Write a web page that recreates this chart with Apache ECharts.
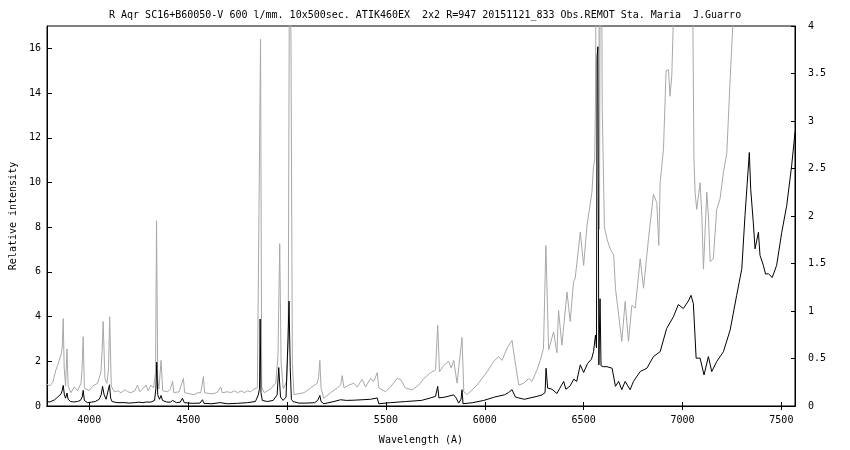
<!DOCTYPE html>
<html>
<head>
<meta charset="utf-8">
<script src="https://cdn.jsdelivr.net/npm/echarts@6/dist/echarts.min.js"></script>
<style>html,body{margin:0;padding:0;background:#fff;}#c{width:850px;height:450px;}</style>
</head>
<body>
<div id="c"></div>
<script>
const titleText = "R Aqr SC16+B60050-V 600 l/mm. 10x500sec. ATIK460EX  2x2 R=947 20151121_833 Obs.REMOT Sta. Maria  J.Guarro";
const xTicks = [4000, 4500, 5000, 5500, 6000, 6500, 7000, 7500];
const yLeftTicks = [0, 2, 4, 6, 8, 10, 12, 14, 16];

// Black spectrum (left axis, relative intensity)
const blackWl = [3786,3800,3823,3840,3850,3858,3863,3868,3874,3880,3887,3893,3905,3920,3940,3955,3964,3969,3975,3990,
4010,4030,4050,4060,4067,4075,4085,4095,4102,4108,4115,4140,4180,4200,4230,4250,4270,4290,4310,4330,
4337,4341,4346,4355,4363,4370,4390,4410,4421,4440,4460,4471,4480,4520,4560,4572,4580,4620,4660,4700,
4750,4800,4840,4855,4861,4864,4868,4875,4900,4930,4950,4958,4962,4967,4980,4995,5005,5010,5016,5022,
5030,5060,5100,5140,5155,5166,5172,5186,5237,5271,5300,5338,5380,5422,5456,5464,5523,5600,5680,5725,
5751,5758,5762,5768,5800,5843,5855,5868,5880,5885,5890,5940,5995,6050,6100,6120,6138,6155,6172,6200,
6264,6290,6305,6310,6318,6340,6365,6380,6399,6410,6432,6450,6465,6483,6500,6520,6540,6550,6560,6565,
6568,6572,6577,6583,6588,6600,6618,6644,6661,6677,6693,6710,6719,6735,6752,6786,6820,6853,6887,6920,
6954,6979,7004,7030,7043,7055,7069,7089,7109,7131,7148,7173,7207,7241,7274,7300,7316,7338,7345,7358,
7367,7384,7392,7409,7420,7434,7454,7476,7502,7527,7552,7569];
const blackFlux = [0.2,0.18,0.27,0.4,0.45,0.55,0.7,0.92,0.5,0.35,0.58,0.3,0.2,0.18,0.2,0.25,0.4,0.7,0.25,0.15,
0.17,0.2,0.3,0.5,0.88,0.5,0.3,0.35,0.95,0.35,0.2,0.15,0.15,0.13,0.15,0.17,0.15,0.18,0.17,0.25,
0.8,1.96,0.5,0.3,0.47,0.25,0.18,0.17,0.25,0.15,0.17,0.35,0.15,0.12,0.13,0.28,0.12,0.1,0.15,0.1,
0.12,0.15,0.2,0.5,0.8,3.89,0.6,0.25,0.2,0.25,0.5,1.72,1.7,0.4,0.25,0.4,3.0,4.69,1.72,0.3,
0.2,0.13,0.13,0.15,0.25,0.47,0.2,0.1,0.2,0.28,0.25,0.26,0.28,0.3,0.36,0.1,0.15,0.2,0.25,0.36,
0.43,0.5,0.88,0.36,0.4,0.5,0.36,0.13,0.3,0.73,0.1,0.15,0.25,0.4,0.5,0.6,0.73,0.4,0.36,0.3,
0.43,0.5,0.6,1.69,0.8,0.75,0.56,0.8,1.1,0.75,0.9,1.2,1.1,1.84,1.5,1.9,2.1,2.43,3.17,2.6,
15.6,16.07,1.84,4.8,1.8,1.76,1.76,1.69,0.88,1.1,0.73,1.1,1.1,0.73,1.1,1.54,1.69,2.21,2.43,3.47,
3.99,4.54,4.36,4.7,4.95,4.58,2.14,2.14,1.39,2.21,1.54,1.99,2.43,3.4,4.95,6.14,8.51,11.34,9.7,8.22,
7.03,7.77,6.74,6.29,5.9,5.92,5.75,6.29,7.77,8.96,10.74,12.24];

// Grey spectrum (right axis)
const greyWl = [3786,3800,3815,3831,3840,3848,3857,3863,3868,3873,3880,3887,3893,3907,3924,3941,3958,3963,3969,3975,
3999,4017,4042,4059,4065,4070,4079,4089,4097,4103,4111,4126,4145,4160,4180,4194,4210,4230,4244,4255,
4270,4286,4298,4311,4325,4335,4340,4346,4352,4363,4371,4396,4410,4421,4428,4454,4476,4482,4505,4530,
4550,4564,4577,4583,4610,4631,4650,4665,4672,4700,4715,4735,4749,4770,4783,4800,4816,4833,4850,4860,
4866,4872,4884,4917,4943,4954,4963,4970,4981,4998,5006,5013,5020,5027,5035,5086,5119,5153,5160,5166,
5172,5186,5220,5254,5271,5279,5288,5313,5338,5355,5380,5397,5422,5439,5456,5464,5498,5523,5557,5574,
5599,5633,5666,5692,5725,5751,5762,5771,5793,5818,5830,5843,5860,5885,5894,5911,5961,6012,6045,6071,
6087,6113,6138,6146,6172,6197,6222,6239,6264,6281,6297,6309,6323,6348,6365,6373,6390,6416,6432,6449,
6457,6483,6500,6517,6542,6550,6556,6560,6568,6576,6580,6587,6594,6605,6618,6635,6652,6661,6677,6693,
6710,6727,6744,6761,6786,6803,6828,6853,6870,6880,6887,6904,6917,6929,6937,6946,6956,6980,7020,7050,
7058,7064,7072,7089,7098,7106,7123,7131,7140,7156,7173,7190,7207,7224,7241,7257,7290,7350,7450,7569];
const greyFlux = [0.23,0.21,0.25,0.38,0.43,0.42,0.54,0.61,0.92,0.4,0.21,0.6,0.21,0.14,0.2,0.16,0.24,0.38,0.73,0.19,
0.16,0.21,0.24,0.36,0.59,0.89,0.29,0.24,0.38,0.94,0.21,0.15,0.16,0.14,0.17,0.15,0.14,0.16,0.22,0.15,
0.18,0.22,0.16,0.22,0.19,0.35,1.95,0.28,0.18,0.48,0.16,0.15,0.18,0.26,0.14,0.15,0.29,0.14,0.13,0.12,
0.14,0.14,0.31,0.14,0.13,0.13,0.15,0.2,0.14,0.15,0.14,0.16,0.14,0.16,0.14,0.16,0.15,0.18,0.19,0.2,
3.86,0.2,0.14,0.18,0.24,0.52,1.71,0.45,0.18,0.26,0.71,5.2,3.81,0.45,0.12,0.14,0.19,0.24,0.31,0.48,
0.19,0.08,0.14,0.19,0.22,0.32,0.19,0.22,0.24,0.2,0.28,0.2,0.29,0.26,0.35,0.19,0.15,0.2,0.29,0.28,
0.19,0.17,0.22,0.29,0.35,0.38,0.85,0.36,0.43,0.47,0.4,0.48,0.24,0.72,0.15,0.12,0.22,0.36,0.47,0.52,
0.48,0.61,0.69,0.57,0.22,0.24,0.29,0.26,0.38,0.48,0.61,1.69,0.59,0.78,0.56,1.01,0.64,1.2,0.89,1.31,
1.34,1.83,1.48,1.9,2.25,2.53,2.59,3.22,7.06,5.9,1.86,7.06,3.15,1.88,1.76,1.65,1.59,1.24,0.96,0.68,
1.1,0.68,1.06,1.03,1.55,1.24,1.76,2.23,2.14,1.69,2.35,2.71,3.53,3.54,3.26,3.48,4.24,5.2,5.6,4.7,
2.59,2.24,2.07,2.35,2.0,1.44,2.25,2.0,1.52,1.55,2.07,2.18,2.46,2.66,3.44,4.12,5.2,6.6,6.1,7.06];

const blackData = blackWl.map((w, i) => [w, blackFlux[i]]);
const greyData = greyWl.map((w, i) => [w, greyFlux[i]]);

const FONT = "DejaVu Sans Mono";
const lbl = {color: '#000', fontFamily: FONT, fontSize: 10};

const chart = echarts.init(document.getElementById('c'), null, {renderer: 'canvas'});
chart.setOption({
  animation: false,
  backgroundColor: '#fff',
  title: {
    text: titleText, left: 104, top: 5,
    textStyle: {color: '#000', fontFamily: FONT, fontSize: 10, fontWeight: 'normal'}
  },
  grid: {left: 46, right: 55, top: 26, bottom: 42, show: true, borderColor: '#000', borderWidth: 1, backgroundColor: 'transparent'},
  xAxis: [
    {
      type: 'value', min: 3786, max: 7569, position: 'bottom',
      name: 'Wavelength (A)', nameLocation: 'middle', nameGap: 29,
      nameTextStyle: lbl,
      axisLine: {show: true, lineStyle: {color: '#000', width: 1}},
      axisTick: {show: true, inside: true, length: 4, customValues: xTicks, lineStyle: {color: '#000'}},
      axisLabel: Object.assign({margin: 9, customValues: xTicks, formatter: v => String(v)}, lbl),
      splitLine: {show: false}
    },
    {
      type: 'value', min: 3786, max: 7569, position: 'top',
      axisLine: {show: true, lineStyle: {color: '#000', width: 1}},
      axisTick: {show: true, inside: true, length: 4, customValues: xTicks, lineStyle: {color: '#000'}},
      axisLabel: {show: false},
      splitLine: {show: false}
    }
  ],
  yAxis: [
    {
      type: 'value', min: 0, max: 17, position: 'left',
      name: 'Relative intensity', nameLocation: 'middle', nameGap: 29, nameRotate: 90,
      nameTextStyle: lbl,
      axisLine: {show: true, lineStyle: {color: '#000', width: 1}},
      axisTick: {show: true, inside: true, length: 5, customValues: yLeftTicks, lineStyle: {color: '#000'}},
      axisLabel: Object.assign({margin: 6, customValues: yLeftTicks}, lbl),
      splitLine: {show: false}
    },
    {
      type: 'value', min: 0, max: 4, interval: 0.5, position: 'right',
      axisLine: {show: true, lineStyle: {color: '#000', width: 1}},
      axisTick: {show: true, inside: true, length: 4, lineStyle: {color: '#000'}},
      axisLabel: Object.assign({margin: 13}, lbl),
      splitLine: {show: false}
    }
  ],
  series: [
    {
      type: 'line', name: 'grey', xAxisIndex: 0, yAxisIndex: 1, data: greyData,
      showSymbol: false, symbol: 'none', clip: true, z: 2,
      lineStyle: {color: '#a8a8a8', width: 1}
    },
    {
      type: 'line', name: 'black', xAxisIndex: 0, yAxisIndex: 0, data: blackData,
      showSymbol: false, symbol: 'none', clip: true, z: 3,
      lineStyle: {color: '#000', width: 1}
    }
  ]
});
</script>
</body>
</html>
